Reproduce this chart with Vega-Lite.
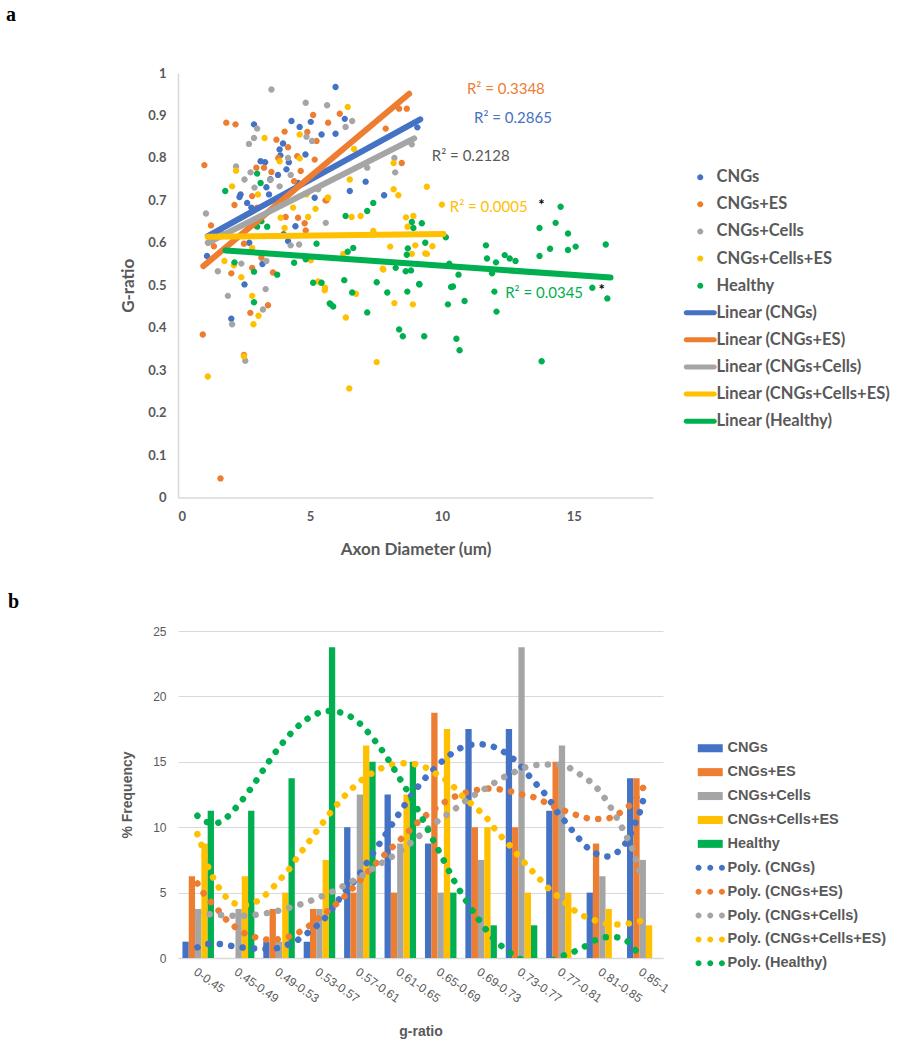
{
"$schema": "https://vega.github.io/schema/vega-lite/v6.json",
"background": "white",
"padding": {"left": 6, "top": 5, "right": 5, "bottom": 5},
"config": {"view": {"stroke": null}},
"spacing": 34,
"resolve": {"scale": {"color": "independent", "shape": "independent"}},
"datasets": {
"pts": [
{"series":"CNGs","x":2.88,"y":0.879},{"series":"CNGs","x":4.3,"y":0.887},{"series":"CNGs","x":4.61,"y":0.873},{"series":"CNGs","x":5.03,"y":0.885},{"series":"CNGs","x":5.44,"y":0.855},{"series":"CNGs","x":3.98,"y":0.834},{"series":"CNGs","x":3.85,"y":0.82},{"series":"CNGs","x":3.88,"y":0.806},{"series":"CNGs","x":4.83,"y":0.808},{"series":"CNGs","x":3.13,"y":0.792},{"series":"CNGs","x":4.11,"y":0.773},{"series":"CNGs","x":3.79,"y":0.76},{"series":"CNGs","x":4.55,"y":0.741},{"series":"CNGs","x":2.37,"y":0.714},{"series":"CNGs","x":2.33,"y":0.708},{"series":"CNGs","x":2.62,"y":0.694},{"series":"CNGs","x":3.35,"y":0.731},{"series":"CNGs","x":3.45,"y":0.714},{"series":"CNGs","x":5.18,"y":0.706},{"series":"CNGs","x":4.45,"y":0.639},{"series":"CNGs","x":2.78,"y":0.683},{"series":"CNGs","x":1.1,"y":0.569},{"series":"CNGs","x":2.52,"y":0.502},{"series":"CNGs","x":4.17,"y":0.604},{"series":"CNGs","x":5.97,"y":0.967},{"series":"CNGs","x":6.32,"y":0.892},{"series":"CNGs","x":5.97,"y":0.857},{"series":"CNGs","x":9.07,"y":0.872},{"series":"CNGs","x":7.11,"y":0.744},{"series":"CNGs","x":6.51,"y":0.722},{"series":"CNGs","x":7.81,"y":0.712},{"series":"CNGs","x":2.02,"y":0.421},{"series":"CNGs","x":3.3,"y":0.79},{"series":"CNGs","x":3.5,"y":0.75},{"series":"CNGs","x":4.2,"y":0.79},{"series":"CNGs","x":4.0,"y":0.62},{"series":"CNGs","x":3.2,"y":0.55},{"series":"CNGs","x":2.7,"y":0.6},
{"series":"CNGs+ES","x":1.83,"y":0.883},{"series":"CNGs+ES","x":2.18,"y":0.879},{"series":"CNGs+ES","x":5.12,"y":0.901},{"series":"CNGs+ES","x":5.69,"y":0.883},{"series":"CNGs+ES","x":4.9,"y":0.861},{"series":"CNGs+ES","x":4.04,"y":0.862},{"series":"CNGs+ES","x":5.25,"y":0.84},{"series":"CNGs+ES","x":3.73,"y":0.843},{"series":"CNGs+ES","x":4.17,"y":0.825},{"series":"CNGs+ES","x":4.52,"y":0.804},{"series":"CNGs+ES","x":3.26,"y":0.777},{"series":"CNGs+ES","x":2.97,"y":0.777},{"series":"CNGs+ES","x":3.54,"y":0.767},{"series":"CNGs+ES","x":1.0,"y":0.783},{"series":"CNGs+ES","x":4.65,"y":0.769},{"series":"CNGs+ES","x":5.18,"y":0.796},{"series":"CNGs+ES","x":2.81,"y":0.71},{"series":"CNGs+ES","x":2.14,"y":0.689},{"series":"CNGs+ES","x":3.0,"y":0.683},{"series":"CNGs+ES","x":4.08,"y":0.661},{"series":"CNGs+ES","x":4.55,"y":0.659},{"series":"CNGs+ES","x":4.8,"y":0.646},{"series":"CNGs+ES","x":5.63,"y":0.7},{"series":"CNGs+ES","x":1.25,"y":0.641},{"series":"CNGs+ES","x":2.5,"y":0.598},{"series":"CNGs+ES","x":1.36,"y":0.592},{"series":"CNGs+ES","x":2.81,"y":0.541},{"series":"CNGs+ES","x":3.6,"y":0.53},{"series":"CNGs+ES","x":2.02,"y":0.528},{"series":"CNGs+ES","x":3.16,"y":0.565},{"series":"CNGs+ES","x":4.84,"y":0.629},{"series":"CNGs+ES","x":6.13,"y":0.904},{"series":"CNGs+ES","x":7.87,"y":0.869},{"series":"CNGs+ES","x":8.38,"y":0.916},{"series":"CNGs+ES","x":8.67,"y":0.916},{"series":"CNGs+ES","x":8.48,"y":0.788},{"series":"CNGs+ES","x":5.59,"y":0.7},{"series":"CNGs+ES","x":3.41,"y":0.453},{"series":"CNGs+ES","x":2.74,"y":0.435},{"series":"CNGs+ES","x":0.94,"y":0.384},{"series":"CNGs+ES","x":2.5,"y":0.336},{"series":"CNGs+ES","x":1.61,"y":0.045},{"series":"CNGs+ES","x":4.4,"y":0.745},{"series":"CNGs+ES","x":3.8,"y":0.8},{"series":"CNGs+ES","x":4.3,"y":0.72},
{"series":"CNGs+Cells","x":3.54,"y":0.961},{"series":"CNGs+Cells","x":4.84,"y":0.93},{"series":"CNGs+Cells","x":5.65,"y":0.924},{"series":"CNGs+Cells","x":3.0,"y":0.869},{"series":"CNGs+Cells","x":2.88,"y":0.847},{"series":"CNGs+Cells","x":2.69,"y":0.833},{"series":"CNGs+Cells","x":4.87,"y":0.85},{"series":"CNGs+Cells","x":5.08,"y":0.84},{"series":"CNGs+Cells","x":4.17,"y":0.8},{"series":"CNGs+Cells","x":2.2,"y":0.78},{"series":"CNGs+Cells","x":2.75,"y":0.766},{"series":"CNGs+Cells","x":2.52,"y":0.749},{"series":"CNGs+Cells","x":3.5,"y":0.748},{"series":"CNGs+Cells","x":3.85,"y":0.733},{"series":"CNGs+Cells","x":4.27,"y":0.76},{"series":"CNGs+Cells","x":1.06,"y":0.669},{"series":"CNGs+Cells","x":1.15,"y":0.6},{"series":"CNGs+Cells","x":2.9,"y":0.73},{"series":"CNGs+Cells","x":5.6,"y":0.647},{"series":"CNGs+Cells","x":4.59,"y":0.596},{"series":"CNGs+Cells","x":4.27,"y":0.594},{"series":"CNGs+Cells","x":2.4,"y":0.551},{"series":"CNGs+Cells","x":1.51,"y":0.533},{"series":"CNGs+Cells","x":3.35,"y":0.557},{"series":"CNGs+Cells","x":5.31,"y":0.726},{"series":"CNGs+Cells","x":6.6,"y":0.887},{"series":"CNGs+Cells","x":6.35,"y":0.873},{"series":"CNGs+Cells","x":8.2,"y":0.8},{"series":"CNGs+Cells","x":8.23,"y":0.766},{"series":"CNGs+Cells","x":8.86,"y":0.832},{"series":"CNGs+Cells","x":7.17,"y":0.777},{"series":"CNGs+Cells","x":1.89,"y":0.475},{"series":"CNGs+Cells","x":3.32,"y":0.491},{"series":"CNGs+Cells","x":3.22,"y":0.443},{"series":"CNGs+Cells","x":2.05,"y":0.408},{"series":"CNGs+Cells","x":2.55,"y":0.322},{"series":"CNGs+Cells","x":1.7,"y":0.62},{"series":"CNGs+Cells","x":3.1,"y":0.66},
{"series":"CNGs+Cells+ES","x":3.28,"y":0.847},{"series":"CNGs+Cells+ES","x":4.61,"y":0.855},{"series":"CNGs+Cells+ES","x":3.85,"y":0.792},{"series":"CNGs+Cells+ES","x":4.61,"y":0.799},{"series":"CNGs+Cells+ES","x":2.2,"y":0.77},{"series":"CNGs+Cells+ES","x":2.05,"y":0.733},{"series":"CNGs+Cells+ES","x":3.03,"y":0.714},{"series":"CNGs+Cells+ES","x":4.87,"y":0.714},{"series":"CNGs+Cells+ES","x":5.69,"y":0.706},{"series":"CNGs+Cells+ES","x":4.36,"y":0.683},{"series":"CNGs+Cells+ES","x":5.21,"y":0.68},{"series":"CNGs+Cells+ES","x":4.93,"y":0.661},{"series":"CNGs+Cells+ES","x":3.89,"y":0.659},{"series":"CNGs+Cells+ES","x":4.04,"y":0.635},{"series":"CNGs+Cells+ES","x":1.76,"y":0.557},{"series":"CNGs+Cells+ES","x":2.12,"y":0.547},{"series":"CNGs+Cells+ES","x":2.4,"y":0.519},{"series":"CNGs+Cells+ES","x":2.81,"y":0.588},{"series":"CNGs+Cells+ES","x":5.4,"y":0.506},{"series":"CNGs+Cells+ES","x":5.57,"y":0.494},{"series":"CNGs+Cells+ES","x":5.03,"y":0.559},{"series":"CNGs+Cells+ES","x":6.43,"y":0.92},{"series":"CNGs+Cells+ES","x":6.67,"y":0.821},{"series":"CNGs+Cells+ES","x":6.51,"y":0.749},{"series":"CNGs+Cells+ES","x":5.67,"y":0.706},{"series":"CNGs+Cells+ES","x":8.17,"y":0.788},{"series":"CNGs+Cells+ES","x":8.17,"y":0.726},{"series":"CNGs+Cells+ES","x":8.35,"y":0.712},{"series":"CNGs+Cells+ES","x":9.43,"y":0.732},{"series":"CNGs+Cells+ES","x":10.0,"y":0.69},{"series":"CNGs+Cells+ES","x":6.58,"y":0.661},{"series":"CNGs+Cells+ES","x":6.92,"y":0.663},{"series":"CNGs+Cells+ES","x":8.64,"y":0.66},{"series":"CNGs+Cells+ES","x":8.92,"y":0.663},{"series":"CNGs+Cells+ES","x":8.7,"y":0.638},{"series":"CNGs+Cells+ES","x":8.04,"y":0.591},{"series":"CNGs+Cells+ES","x":8.99,"y":0.594},{"series":"CNGs+Cells+ES","x":9.43,"y":0.574},{"series":"CNGs+Cells+ES","x":9.64,"y":0.592},{"series":"CNGs+Cells+ES","x":6.26,"y":0.574},{"series":"CNGs+Cells+ES","x":7.4,"y":0.628},{"series":"CNGs+Cells+ES","x":7.78,"y":0.537},{"series":"CNGs+Cells+ES","x":8.86,"y":0.574},{"series":"CNGs+Cells+ES","x":2.81,"y":0.475},{"series":"CNGs+Cells+ES","x":3.05,"y":0.428},{"series":"CNGs+Cells+ES","x":2.86,"y":0.408},{"series":"CNGs+Cells+ES","x":2.5,"y":0.333},{"series":"CNGs+Cells+ES","x":1.13,"y":0.285},{"series":"CNGs+Cells+ES","x":5.56,"y":0.488},{"series":"CNGs+Cells+ES","x":5.31,"y":0.509},{"series":"CNGs+Cells+ES","x":6.36,"y":0.424},{"series":"CNGs+Cells+ES","x":6.74,"y":0.48},{"series":"CNGs+Cells+ES","x":7.53,"y":0.319},{"series":"CNGs+Cells+ES","x":6.49,"y":0.257},{"series":"CNGs+Cells+ES","x":7.76,"y":0.539},{"series":"CNGs+Cells+ES","x":8.2,"y":0.458},{"series":"CNGs+Cells+ES","x":8.9,"y":0.455},{"series":"CNGs+Cells+ES","x":9.37,"y":0.575},
{"series":"Healthy","x":3.0,"y":0.763},{"series":"Healthy","x":3.13,"y":0.741},{"series":"Healthy","x":1.79,"y":0.722},{"series":"Healthy","x":3.16,"y":0.651},{"series":"Healthy","x":3.38,"y":0.638},{"series":"Healthy","x":3.0,"y":0.638},{"series":"Healthy","x":2.14,"y":0.554},{"series":"Healthy","x":2.88,"y":0.532},{"series":"Healthy","x":3.76,"y":0.525},{"series":"Healthy","x":4.4,"y":0.553},{"series":"Healthy","x":5.25,"y":0.598},{"series":"Healthy","x":4.84,"y":0.561},{"series":"Healthy","x":5.12,"y":0.506},{"series":"Healthy","x":5.44,"y":0.506},{"series":"Healthy","x":7.4,"y":0.694},{"series":"Healthy","x":7.17,"y":0.675},{"series":"Healthy","x":6.35,"y":0.663},{"series":"Healthy","x":8.86,"y":0.649},{"series":"Healthy","x":9.24,"y":0.646},{"series":"Healthy","x":8.92,"y":0.635},{"series":"Healthy","x":9.37,"y":0.6},{"series":"Healthy","x":10.15,"y":0.613},{"series":"Healthy","x":8.71,"y":0.587},{"series":"Healthy","x":6.64,"y":0.588},{"series":"Healthy","x":6.43,"y":0.579},{"series":"Healthy","x":8.25,"y":0.541},{"series":"Healthy","x":8.63,"y":0.533},{"series":"Healthy","x":8.83,"y":0.535},{"series":"Healthy","x":10.28,"y":0.551},{"series":"Healthy","x":10.63,"y":0.525},{"series":"Healthy","x":6.3,"y":0.512},{"series":"Healthy","x":7.53,"y":0.507},{"series":"Healthy","x":9.14,"y":0.503},{"series":"Healthy","x":10.35,"y":0.496},{"series":"Healthy","x":2.88,"y":0.46},{"series":"Healthy","x":5.79,"y":0.455},{"series":"Healthy","x":5.75,"y":0.457},{"series":"Healthy","x":5.88,"y":0.45},{"series":"Healthy","x":6.6,"y":0.483},{"series":"Healthy","x":7.17,"y":0.436},{"series":"Healthy","x":7.93,"y":0.483},{"series":"Healthy","x":8.38,"y":0.396},{"series":"Healthy","x":8.52,"y":0.38},{"series":"Healthy","x":8.69,"y":0.485},{"series":"Healthy","x":9.15,"y":0.502},{"series":"Healthy","x":9.33,"y":0.38},{"series":"Healthy","x":10.23,"y":0.455},{"series":"Healthy","x":10.42,"y":0.497},{"series":"Healthy","x":10.55,"y":0.374},{"series":"Healthy","x":10.67,"y":0.347},{"series":"Healthy","x":10.86,"y":0.463},{"series":"Healthy","x":8.67,"y":0.572},{"series":"Healthy","x":14.5,"y":0.685},{"series":"Healthy","x":14.31,"y":0.647},{"series":"Healthy","x":13.7,"y":0.635},{"series":"Healthy","x":14.78,"y":0.622},{"series":"Healthy","x":14.1,"y":0.586},{"series":"Healthy","x":14.78,"y":0.583},{"series":"Healthy","x":15.07,"y":0.591},{"series":"Healthy","x":16.21,"y":0.596},{"series":"Healthy","x":13.7,"y":0.569},{"series":"Healthy","x":11.67,"y":0.594},{"series":"Healthy","x":11.71,"y":0.563},{"series":"Healthy","x":12.05,"y":0.554},{"series":"Healthy","x":12.38,"y":0.571},{"series":"Healthy","x":12.57,"y":0.563},{"series":"Healthy","x":12.79,"y":0.557},{"series":"Healthy","x":11.9,"y":0.528},{"series":"Healthy","x":11.99,"y":0.485},{"series":"Healthy","x":12.07,"y":0.438},{"series":"Healthy","x":15.7,"y":0.494},{"series":"Healthy","x":16.27,"y":0.469},{"series":"Healthy","x":13.78,"y":0.321}
],
"lin": [
{"series":"Linear (CNGs)","x":1.13,"y":0.616},{"series":"Linear (CNGs)","x":9.18,"y":0.891},
{"series":"Linear (CNGs+ES)","x":0.96,"y":0.545},{"series":"Linear (CNGs+ES)","x":8.76,"y":0.951},
{"series":"Linear (CNGs+Cells)","x":1.13,"y":0.6},{"series":"Linear (CNGs+Cells)","x":8.95,"y":0.846},
{"series":"Linear (CNGs+Cells+ES)","x":1.13,"y":0.614},{"series":"Linear (CNGs+Cells+ES)","x":10.06,"y":0.621},
{"series":"Linear (Healthy)","x":1.8,"y":0.582},{"series":"Linear (Healthy)","x":16.39,"y":0.518}
],
"bars": [
{"bin":"0-0.45","series":"CNGs","value":1.25},{"bin":"0.45-0.49","series":"CNGs","value":0},{"bin":"0.49-0.53","series":"CNGs","value":1.25},{"bin":"0.53-0.57","series":"CNGs","value":1.25},{"bin":"0.57-0.61","series":"CNGs","value":10},{"bin":"0.61-0.65","series":"CNGs","value":12.5},{"bin":"0.65-0.69","series":"CNGs","value":8.75},{"bin":"0.69-0.73","series":"CNGs","value":17.5},{"bin":"0.73-0.77","series":"CNGs","value":17.5},{"bin":"0.77-0.81","series":"CNGs","value":11.25},{"bin":"0.81-0.85","series":"CNGs","value":5},{"bin":"0.85-1","series":"CNGs","value":13.75},
{"bin":"0-0.45","series":"CNGs+ES","value":6.25},{"bin":"0.45-0.49","series":"CNGs+ES","value":0},{"bin":"0.49-0.53","series":"CNGs+ES","value":3.75},{"bin":"0.53-0.57","series":"CNGs+ES","value":3.75},{"bin":"0.57-0.61","series":"CNGs+ES","value":5},{"bin":"0.61-0.65","series":"CNGs+ES","value":5},{"bin":"0.65-0.69","series":"CNGs+ES","value":18.75},{"bin":"0.69-0.73","series":"CNGs+ES","value":10},{"bin":"0.73-0.77","series":"CNGs+ES","value":10},{"bin":"0.77-0.81","series":"CNGs+ES","value":15},{"bin":"0.81-0.85","series":"CNGs+ES","value":8.75},{"bin":"0.85-1","series":"CNGs+ES","value":13.75},
{"bin":"0-0.45","series":"CNGs+Cells","value":3.75},{"bin":"0.45-0.49","series":"CNGs+Cells","value":3.75},{"bin":"0.49-0.53","series":"CNGs+Cells","value":1.25},{"bin":"0.53-0.57","series":"CNGs+Cells","value":3.75},{"bin":"0.57-0.61","series":"CNGs+Cells","value":12.5},{"bin":"0.61-0.65","series":"CNGs+Cells","value":8.75},{"bin":"0.65-0.69","series":"CNGs+Cells","value":5},{"bin":"0.69-0.73","series":"CNGs+Cells","value":7.5},{"bin":"0.73-0.77","series":"CNGs+Cells","value":23.75},{"bin":"0.77-0.81","series":"CNGs+Cells","value":16.25},{"bin":"0.81-0.85","series":"CNGs+Cells","value":6.25},{"bin":"0.85-1","series":"CNGs+Cells","value":7.5},
{"bin":"0-0.45","series":"CNGs+Cells+ES","value":8.75},{"bin":"0.45-0.49","series":"CNGs+Cells+ES","value":6.25},{"bin":"0.49-0.53","series":"CNGs+Cells+ES","value":5},{"bin":"0.53-0.57","series":"CNGs+Cells+ES","value":7.5},{"bin":"0.57-0.61","series":"CNGs+Cells+ES","value":16.25},{"bin":"0.61-0.65","series":"CNGs+Cells+ES","value":12.5},{"bin":"0.65-0.69","series":"CNGs+Cells+ES","value":17.5},{"bin":"0.69-0.73","series":"CNGs+Cells+ES","value":10},{"bin":"0.73-0.77","series":"CNGs+Cells+ES","value":5},{"bin":"0.77-0.81","series":"CNGs+Cells+ES","value":5},{"bin":"0.81-0.85","series":"CNGs+Cells+ES","value":3.75},{"bin":"0.85-1","series":"CNGs+Cells+ES","value":2.5},
{"bin":"0-0.45","series":"Healthy","value":11.25},{"bin":"0.45-0.49","series":"Healthy","value":11.25},{"bin":"0.49-0.53","series":"Healthy","value":13.75},{"bin":"0.53-0.57","series":"Healthy","value":23.75},{"bin":"0.57-0.61","series":"Healthy","value":15},{"bin":"0.61-0.65","series":"Healthy","value":15},{"bin":"0.65-0.69","series":"Healthy","value":5},{"bin":"0.69-0.73","series":"Healthy","value":2.5},{"bin":"0.73-0.77","series":"Healthy","value":2.5},{"bin":"0.77-0.81","series":"Healthy","value":0},{"bin":"0.81-0.85","series":"Healthy","value":0},{"bin":"0.85-1","series":"Healthy","value":0}
],
"poly": [
{"series":"Poly. (CNGs)","idx":0.98,"value":0.81},{"series":"Poly. (CNGs)","idx":1.25,"value":1.07},{"series":"Poly. (CNGs)","idx":1.51,"value":1.07},{"series":"Poly. (CNGs)","idx":1.79,"value":0.94},{"series":"Poly. (CNGs)","idx":2.06,"value":0.81},{"series":"Poly. (CNGs)","idx":2.34,"value":0.74},{"series":"Poly. (CNGs)","idx":2.65,"value":0.69},{"series":"Poly. (CNGs)","idx":2.92,"value":0.74},{"series":"Poly. (CNGs)","idx":3.19,"value":0.99},{"series":"Poly. (CNGs)","idx":3.43,"value":1.32},{"series":"Poly. (CNGs)","idx":3.64,"value":1.76},{"series":"Poly. (CNGs)","idx":3.85,"value":2.27},{"series":"Poly. (CNGs)","idx":4.06,"value":2.8},{"series":"Poly. (CNGs)","idx":4.3,"value":3.7},{"series":"Poly. (CNGs)","idx":4.55,"value":4.76},{"series":"Poly. (CNGs)","idx":4.93,"value":6.16},{"series":"Poly. (CNGs)","idx":5.24,"value":7.61},{"series":"Poly. (CNGs)","idx":5.56,"value":9.09},{"series":"Poly. (CNGs)","idx":5.87,"value":10.57},{"series":"Poly. (CNGs)","idx":6.18,"value":12.02},{"series":"Poly. (CNGs)","idx":6.51,"value":13.37},{"series":"Poly. (CNGs)","idx":6.87,"value":14.56},{"series":"Poly. (CNGs)","idx":7.25,"value":15.58},{"series":"Poly. (CNGs)","idx":7.69,"value":16.27},{"series":"Poly. (CNGs)","idx":7.98,"value":16.34},{"series":"Poly. (CNGs)","idx":8.23,"value":16.22},{"series":"Poly. (CNGs)","idx":8.49,"value":15.89},{"series":"Poly. (CNGs)","idx":8.7,"value":15.45},{"series":"Poly. (CNGs)","idx":8.9,"value":14.94},{"series":"Poly. (CNGs)","idx":9.08,"value":14.31},{"series":"Poly. (CNGs)","idx":9.27,"value":13.62},{"series":"Poly. (CNGs)","idx":9.44,"value":13.03},{"series":"Poly. (CNGs)","idx":9.62,"value":12.4},{"series":"Poly. (CNGs)","idx":9.94,"value":10.92},{"series":"Poly. (CNGs)","idx":10.12,"value":10.29},{"series":"Poly. (CNGs)","idx":10.29,"value":9.6},{"series":"Poly. (CNGs)","idx":10.47,"value":8.96},{"series":"Poly. (CNGs)","idx":10.65,"value":8.38},{"series":"Poly. (CNGs)","idx":10.87,"value":7.94},{"series":"Poly. (CNGs)","idx":11.15,"value":7.76},{"series":"Poly. (CNGs)","idx":11.38,"value":8.12},{"series":"Poly. (CNGs)","idx":11.57,"value":8.76},{"series":"Poly. (CNGs)","idx":11.82,"value":10.36},{"series":"Poly. (CNGs)","idx":11.93,"value":11.18},{"series":"Poly. (CNGs)","idx":12.01,"value":12.07},
{"series":"Poly. (CNGs+ES)","idx":0.98,"value":5.7},{"series":"Poly. (CNGs+ES)","idx":1.13,"value":4.96},{"series":"Poly. (CNGs+ES)","idx":1.31,"value":4.3},{"series":"Poly. (CNGs+ES)","idx":1.49,"value":3.67},{"series":"Poly. (CNGs+ES)","idx":1.68,"value":2.98},{"series":"Poly. (CNGs+ES)","idx":1.87,"value":2.47},{"series":"Poly. (CNGs+ES)","idx":2.1,"value":1.96},{"series":"Poly. (CNGs+ES)","idx":2.32,"value":1.71},{"series":"Poly. (CNGs+ES)","idx":2.55,"value":1.45},{"series":"Poly. (CNGs+ES)","idx":2.85,"value":1.4},{"series":"Poly. (CNGs+ES)","idx":3.11,"value":1.53},{"series":"Poly. (CNGs+ES)","idx":3.36,"value":1.76},{"series":"Poly. (CNGs+ES)","idx":3.56,"value":2.09},{"series":"Poly. (CNGs+ES)","idx":3.77,"value":2.52},{"series":"Poly. (CNGs+ES)","idx":3.95,"value":2.98},{"series":"Poly. (CNGs+ES)","idx":4.25,"value":3.7},{"series":"Poly. (CNGs+ES)","idx":4.57,"value":4.56},{"series":"Poly. (CNGs+ES)","idx":4.92,"value":5.65},{"series":"Poly. (CNGs+ES)","idx":5.3,"value":6.92},{"series":"Poly. (CNGs+ES)","idx":5.67,"value":8.07},{"series":"Poly. (CNGs+ES)","idx":6.06,"value":9.22},{"series":"Poly. (CNGs+ES)","idx":6.43,"value":10.36},{"series":"Poly. (CNGs+ES)","idx":6.84,"value":11.38},{"series":"Poly. (CNGs+ES)","idx":7.27,"value":12.22},{"series":"Poly. (CNGs+ES)","idx":7.73,"value":12.73},{"series":"Poly. (CNGs+ES)","idx":8.24,"value":12.96},{"series":"Poly. (CNGs+ES)","idx":8.53,"value":12.86},{"series":"Poly. (CNGs+ES)","idx":8.78,"value":12.7},{"series":"Poly. (CNGs+ES)","idx":9.05,"value":12.47},{"series":"Poly. (CNGs+ES)","idx":9.32,"value":12.27},{"series":"Poly. (CNGs+ES)","idx":9.56,"value":11.94},{"series":"Poly. (CNGs+ES)","idx":9.75,"value":11.63},{"series":"Poly. (CNGs+ES)","idx":10.0,"value":11.33},{"series":"Poly. (CNGs+ES)","idx":10.25,"value":11.05},{"series":"Poly. (CNGs+ES)","idx":10.5,"value":10.79},{"series":"Poly. (CNGs+ES)","idx":10.76,"value":10.62},{"series":"Poly. (CNGs+ES)","idx":11.06,"value":10.62},{"series":"Poly. (CNGs+ES)","idx":11.3,"value":10.87},{"series":"Poly. (CNGs+ES)","idx":11.53,"value":11.3},{"series":"Poly. (CNGs+ES)","idx":11.73,"value":11.84},{"series":"Poly. (CNGs+ES)","idx":11.9,"value":12.5},{"series":"Poly. (CNGs+ES)","idx":12.05,"value":13.24},
{"series":"Poly. (CNGs+Cells)","idx":1.0,"value":3.45},{"series":"Poly. (CNGs+Cells)","idx":1.25,"value":3.36},{"series":"Poly. (CNGs+Cells)","idx":1.56,"value":3.28},{"series":"Poly. (CNGs+Cells)","idx":1.85,"value":3.23},{"series":"Poly. (CNGs+Cells)","idx":2.13,"value":3.23},{"series":"Poly. (CNGs+Cells)","idx":2.42,"value":3.31},{"series":"Poly. (CNGs+Cells)","idx":2.71,"value":3.44},{"series":"Poly. (CNGs+Cells)","idx":2.99,"value":3.62},{"series":"Poly. (CNGs+Cells)","idx":3.25,"value":3.84},{"series":"Poly. (CNGs+Cells)","idx":3.5,"value":4.07},{"series":"Poly. (CNGs+Cells)","idx":3.74,"value":4.33},{"series":"Poly. (CNGs+Cells)","idx":3.99,"value":4.63},{"series":"Poly. (CNGs+Cells)","idx":4.24,"value":4.96},{"series":"Poly. (CNGs+Cells)","idx":4.47,"value":5.32},{"series":"Poly. (CNGs+Cells)","idx":4.73,"value":5.73},{"series":"Poly. (CNGs+Cells)","idx":5.05,"value":6.3},{"series":"Poly. (CNGs+Cells)","idx":5.4,"value":7.0},{"series":"Poly. (CNGs+Cells)","idx":5.83,"value":7.82},{"series":"Poly. (CNGs+Cells)","idx":6.25,"value":8.78},{"series":"Poly. (CNGs+Cells)","idx":6.45,"value":9.29},{"series":"Poly. (CNGs+Cells)","idx":6.86,"value":10.31},{"series":"Poly. (CNGs+Cells)","idx":7.29,"value":11.25},{"series":"Poly. (CNGs+Cells)","idx":7.71,"value":12.22},{"series":"Poly. (CNGs+Cells)","idx":8.14,"value":13.03},{"series":"Poly. (CNGs+Cells)","idx":8.59,"value":13.87},{"series":"Poly. (CNGs+Cells)","idx":8.8,"value":14.18},{"series":"Poly. (CNGs+Cells)","idx":9.06,"value":14.54},{"series":"Poly. (CNGs+Cells)","idx":9.32,"value":14.74},{"series":"Poly. (CNGs+Cells)","idx":9.59,"value":14.79},{"series":"Poly. (CNGs+Cells)","idx":9.88,"value":14.79},{"series":"Poly. (CNGs+Cells)","idx":10.14,"value":14.61},{"series":"Poly. (CNGs+Cells)","idx":10.37,"value":14.18},{"series":"Poly. (CNGs+Cells)","idx":10.6,"value":13.72},{"series":"Poly. (CNGs+Cells)","idx":10.8,"value":13.21},{"series":"Poly. (CNGs+Cells)","idx":10.97,"value":12.6},{"series":"Poly. (CNGs+Cells)","idx":11.13,"value":11.89},{"series":"Poly. (CNGs+Cells)","idx":11.28,"value":11.13},{"series":"Poly. (CNGs+Cells)","idx":11.42,"value":10.36},{"series":"Poly. (CNGs+Cells)","idx":11.55,"value":9.55},{"series":"Poly. (CNGs+Cells)","idx":11.68,"value":8.76},{"series":"Poly. (CNGs+Cells)","idx":11.79,"value":7.94},{"series":"Poly. (CNGs+Cells)","idx":11.87,"value":7.1},{"series":"Poly. (CNGs+Cells)","idx":11.97,"value":6.29},
{"series":"Poly. (CNGs+Cells+ES)","idx":0.98,"value":9.47},{"series":"Poly. (CNGs+Cells+ES)","idx":1.08,"value":8.63},{"series":"Poly. (CNGs+Cells+ES)","idx":1.25,"value":6.92},{"series":"Poly. (CNGs+Cells+ES)","idx":1.38,"value":6.08},{"series":"Poly. (CNGs+Cells+ES)","idx":1.52,"value":5.35},{"series":"Poly. (CNGs+Cells+ES)","idx":1.68,"value":4.68},{"series":"Poly. (CNGs+Cells+ES)","idx":1.89,"value":4.18},{"series":"Poly. (CNGs+Cells+ES)","idx":2.15,"value":4.05},{"series":"Poly. (CNGs+Cells+ES)","idx":2.4,"value":4.25},{"series":"Poly. (CNGs+Cells+ES)","idx":2.61,"value":4.68},{"series":"Poly. (CNGs+Cells+ES)","idx":2.8,"value":5.22},{"series":"Poly. (CNGs+Cells+ES)","idx":2.98,"value":5.86},{"series":"Poly. (CNGs+Cells+ES)","idx":3.17,"value":6.49},{"series":"Poly. (CNGs+Cells+ES)","idx":3.34,"value":7.18},{"series":"Poly. (CNGs+Cells+ES)","idx":3.5,"value":7.92},{"series":"Poly. (CNGs+Cells+ES)","idx":3.67,"value":8.58},{"series":"Poly. (CNGs+Cells+ES)","idx":3.83,"value":9.29},{"series":"Poly. (CNGs+Cells+ES)","idx":4.0,"value":9.98},{"series":"Poly. (CNGs+Cells+ES)","idx":4.16,"value":10.67},{"series":"Poly. (CNGs+Cells+ES)","idx":4.34,"value":11.38},{"series":"Poly. (CNGs+Cells+ES)","idx":4.52,"value":12.02},{"series":"Poly. (CNGs+Cells+ES)","idx":4.7,"value":12.65},{"series":"Poly. (CNGs+Cells+ES)","idx":4.88,"value":13.16},{"series":"Poly. (CNGs+Cells+ES)","idx":5.07,"value":13.67},{"series":"Poly. (CNGs+Cells+ES)","idx":5.3,"value":14.13},{"series":"Poly. (CNGs+Cells+ES)","idx":5.52,"value":14.49},{"series":"Poly. (CNGs+Cells+ES)","idx":5.79,"value":14.79},{"series":"Poly. (CNGs+Cells+ES)","idx":6.06,"value":14.89},{"series":"Poly. (CNGs+Cells+ES)","idx":6.35,"value":14.82},{"series":"Poly. (CNGs+Cells+ES)","idx":6.6,"value":14.61},{"series":"Poly. (CNGs+Cells+ES)","idx":6.8,"value":14.23},{"series":"Poly. (CNGs+Cells+ES)","idx":7.01,"value":13.87},{"series":"Poly. (CNGs+Cells+ES)","idx":7.22,"value":13.37},{"series":"Poly. (CNGs+Cells+ES)","idx":7.42,"value":12.78},{"series":"Poly. (CNGs+Cells+ES)","idx":7.61,"value":12.14},{"series":"Poly. (CNGs+Cells+ES)","idx":7.8,"value":11.7},{"series":"Poly. (CNGs+Cells+ES)","idx":7.98,"value":11.18},{"series":"Poly. (CNGs+Cells+ES)","idx":8.16,"value":10.62},{"series":"Poly. (CNGs+Cells+ES)","idx":8.33,"value":9.9},{"series":"Poly. (CNGs+Cells+ES)","idx":8.51,"value":9.25},{"series":"Poly. (CNGs+Cells+ES)","idx":8.7,"value":8.63},{"series":"Poly. (CNGs+Cells+ES)","idx":8.86,"value":8.03},{"series":"Poly. (CNGs+Cells+ES)","idx":9.04,"value":7.4},{"series":"Poly. (CNGs+Cells+ES)","idx":9.21,"value":6.82},{"series":"Poly. (CNGs+Cells+ES)","idx":9.4,"value":6.21},{"series":"Poly. (CNGs+Cells+ES)","idx":9.6,"value":5.52},{"series":"Poly. (CNGs+Cells+ES)","idx":9.81,"value":4.94},{"series":"Poly. (CNGs+Cells+ES)","idx":10.02,"value":4.38},{"series":"Poly. (CNGs+Cells+ES)","idx":10.2,"value":3.9},{"series":"Poly. (CNGs+Cells+ES)","idx":10.41,"value":3.41},{"series":"Poly. (CNGs+Cells+ES)","idx":10.68,"value":3.03},{"series":"Poly. (CNGs+Cells+ES)","idx":10.93,"value":2.77},{"series":"Poly. (CNGs+Cells+ES)","idx":11.2,"value":2.57},{"series":"Poly. (CNGs+Cells+ES)","idx":11.46,"value":2.57},{"series":"Poly. (CNGs+Cells+ES)","idx":11.71,"value":2.67},{"series":"Poly. (CNGs+Cells+ES)","idx":11.97,"value":2.85},
{"series":"Poly. (Healthy)","idx":0.98,"value":10.87},{"series":"Poly. (Healthy)","idx":1.19,"value":10.41},{"series":"Poly. (Healthy)","idx":1.44,"value":10.31},{"series":"Poly. (Healthy)","idx":1.68,"value":10.69},{"series":"Poly. (Healthy)","idx":2.04,"value":11.89},{"series":"Poly. (Healthy)","idx":2.37,"value":13.26},{"series":"Poly. (Healthy)","idx":2.68,"value":14.71},{"series":"Poly. (Healthy)","idx":3.01,"value":16.14},{"series":"Poly. (Healthy)","idx":3.36,"value":17.39},{"series":"Poly. (Healthy)","idx":3.75,"value":18.38},{"series":"Poly. (Healthy)","idx":4.24,"value":18.89},{"series":"Poly. (Healthy)","idx":4.54,"value":18.76},{"series":"Poly. (Healthy)","idx":4.99,"value":17.95},{"series":"Poly. (Healthy)","idx":5.34,"value":16.73},{"series":"Poly. (Healthy)","idx":5.67,"value":15.33},{"series":"Poly. (Healthy)","idx":5.97,"value":13.8},{"series":"Poly. (Healthy)","idx":6.26,"value":12.32},{"series":"Poly. (Healthy)","idx":6.54,"value":10.69},{"series":"Poly. (Healthy)","idx":6.8,"value":9.09},{"series":"Poly. (Healthy)","idx":7.05,"value":7.61},{"series":"Poly. (Healthy)","idx":7.31,"value":6.03},{"series":"Poly. (Healthy)","idx":7.6,"value":4.51},{"series":"Poly. (Healthy)","idx":7.92,"value":3.03},{"series":"Poly. (Healthy)","idx":8.24,"value":1.71},{"series":"Poly. (Healthy)","idx":8.45,"value":1.07},{"series":"Poly. (Healthy)","idx":8.66,"value":0.51},{"series":"Poly. (Healthy)","idx":8.86,"value":0.13},{"series":"Poly. (Healthy)","idx":9.2,"value":-0.35},{"series":"Poly. (Healthy)","idx":9.55,"value":-0.4},{"series":"Poly. (Healthy)","idx":9.89,"value":0},{"series":"Poly. (Healthy)","idx":10.14,"value":0.31},{"series":"Poly. (Healthy)","idx":10.36,"value":0.56},{"series":"Poly. (Healthy)","idx":10.6,"value":0.94},{"series":"Poly. (Healthy)","idx":10.83,"value":1.37},{"series":"Poly. (Healthy)","idx":11.07,"value":1.58},{"series":"Poly. (Healthy)","idx":11.34,"value":1.58},{"series":"Poly. (Healthy)","idx":11.6,"value":1.32},{"series":"Poly. (Healthy)","idx":11.79,"value":0.69},{"series":"Poly. (Healthy)","idx":11.97,"value":0.05}
]
},
"vconcat": [
{
"title": {"text": "a", "anchor": "start", "frame": "group", "dx": -172, "offset": 42, "font": "Liberation Serif", "fontSize": 20, "fontWeight": "bold", "color": "black"},
"width": 475,
"height": 424.5,
"layer": [
{"data": {"name": "pts"},
 "mark": {"type": "point", "filled": true, "size": 220, "opacity": 1},
 "encoding": {
  "x": {"field": "x", "type": "quantitative", "scale": {"domain": [0, 18], "nice": false},
        "axis": {"title": "Axon Diameter (um)", "values": [0, 5, 10, 15], "grid": false, "ticks": false, "domainColor": "#D9D9D9", "domainWidth": 1.5, "labelFont": "Lato", "labelFontSize": 13, "labelFontWeight": "bold", "labelColor": "#595959", "labelPadding": 13, "titleFont": "Lato", "titleFontSize": 17, "titleFontWeight": "bold", "titleColor": "#595959", "titlePadding": 18}},
  "y": {"field": "y", "type": "quantitative", "scale": {"domain": [0, 1], "nice": false},
        "axis": {"title": "G-ratio", "values": [0, 0.1, 0.2, 0.3, 0.4, 0.5, 0.6, 0.7, 0.8, 0.9, 1], "format": "~g", "grid": false, "ticks": false, "domainColor": "#D9D9D9", "domainWidth": 1.5, "labelFont": "Lato", "labelFontSize": 13, "labelFontWeight": "bold", "labelColor": "#595959", "labelPadding": 12, "titleFont": "Lato", "titleFontSize": 17, "titleFontWeight": "bold", "titleColor": "#595959", "titlePadding": 10}},
  "color": {"field": "series", "type": "nominal",
            "scale": {"domain": ["CNGs", "CNGs+ES", "CNGs+Cells", "CNGs+Cells+ES", "Healthy", "Linear (CNGs)", "Linear (CNGs+ES)", "Linear (CNGs+Cells)", "Linear (CNGs+Cells+ES)", "Linear (Healthy)"],
                      "range": ["#4472C4", "#ED7D31", "#A5A5A5", "#FFC000", "#00B050", "#4472C4", "#ED7D31", "#A5A5A5", "#FFC000", "#00B050"]},
            "legend": {"title": null, "orient": "none", "legendX": 514, "legendY": 96, "padding": 0, "symbolSize": 196, "symbolStrokeWidth": 0, "rowPadding": 10.1, "labelOffset": 8, "labelFont": "Lato", "labelFontSize": 16.5, "labelFontWeight": "bold", "labelColor": "#595959", "labelLimit": 300}},
  "shape": {"field": "series", "type": "nominal",
            "scale": {"domain": ["CNGs", "CNGs+ES", "CNGs+Cells", "CNGs+Cells+ES", "Healthy", "Linear (CNGs)", "Linear (CNGs+ES)", "Linear (CNGs+Cells)", "Linear (CNGs+Cells+ES)", "Linear (Healthy)"],
                      "range": ["M-0.43,0A0.43,0.43 0 1,0 0.43,0A0.43,0.43 0 1,0 -0.43,0Z", "M-0.43,0A0.43,0.43 0 1,0 0.43,0A0.43,0.43 0 1,0 -0.43,0Z", "M-0.43,0A0.43,0.43 0 1,0 0.43,0A0.43,0.43 0 1,0 -0.43,0Z", "M-0.43,0A0.43,0.43 0 1,0 0.43,0A0.43,0.43 0 1,0 -0.43,0Z", "M-0.43,0A0.43,0.43 0 1,0 0.43,0A0.43,0.43 0 1,0 -0.43,0Z", "M-2,-0.36H2A0.36,0.36 0 0,1 2,0.36H-2A0.36,0.36 0 0,1 -2,-0.36Z", "M-2,-0.36H2A0.36,0.36 0 0,1 2,0.36H-2A0.36,0.36 0 0,1 -2,-0.36Z", "M-2,-0.36H2A0.36,0.36 0 0,1 2,0.36H-2A0.36,0.36 0 0,1 -2,-0.36Z", "M-2,-0.36H2A0.36,0.36 0 0,1 2,0.36H-2A0.36,0.36 0 0,1 -2,-0.36Z", "M-2,-0.36H2A0.36,0.36 0 0,1 2,0.36H-2A0.36,0.36 0 0,1 -2,-0.36Z"]}}
 }},
{"data": {"name": "lin"},
 "mark": {"type": "line", "strokeWidth": 6, "strokeCap": "round"},
 "encoding": {
  "x": {"field": "x", "type": "quantitative"},
  "y": {"field": "y", "type": "quantitative"},
  "color": {"field": "series", "type": "nominal", "legend": null}}},
{"data": {"values": [{"label": "R² = 0.3348", "x": 10.95, "y": 0.962}]},
 "mark": {"type": "text", "align": "left", "baseline": "middle", "font": "Lato", "fontSize": 15, "color": "#ED7D31"},
 "encoding": {"x": {"field": "x", "type": "quantitative"}, "y": {"field": "y", "type": "quantitative"}, "text": {"field": "label"}}},
{"data": {"values": [{"label": "R² = 0.2865", "x": 11.22, "y": 0.894}]},
 "mark": {"type": "text", "align": "left", "baseline": "middle", "font": "Lato", "fontSize": 15, "color": "#4472C4"},
 "encoding": {"x": {"field": "x", "type": "quantitative"}, "y": {"field": "y", "type": "quantitative"}, "text": {"field": "label"}}},
{"data": {"values": [{"label": "R² = 0.2128", "x": 9.62, "y": 0.804}]},
 "mark": {"type": "text", "align": "left", "baseline": "middle", "font": "Lato", "fontSize": 15, "color": "#595959"},
 "encoding": {"x": {"field": "x", "type": "quantitative"}, "y": {"field": "y", "type": "quantitative"}, "text": {"field": "label"}}},
{"data": {"values": [{"label": "R² = 0.0005", "x": 10.3, "y": 0.684}]},
 "mark": {"type": "text", "align": "left", "baseline": "middle", "font": "Lato", "fontSize": 15, "color": "#FFC000"},
 "encoding": {"x": {"field": "x", "type": "quantitative"}, "y": {"field": "y", "type": "quantitative"}, "text": {"field": "label"}}},
{"data": {"values": [{"label": "R² = 0.0345", "x": 12.4, "y": 0.482}]},
 "mark": {"type": "text", "align": "left", "baseline": "middle", "font": "Lato", "fontSize": 15, "color": "#00B050"},
 "encoding": {"x": {"field": "x", "type": "quantitative"}, "y": {"field": "y", "type": "quantitative"}, "text": {"field": "label"}}},
{"data": {"values": [{"label": "*", "x": 13.65, "y": 0.69}, {"label": "*", "x": 15.93, "y": 0.488}]},
 "mark": {"type": "text", "align": "left", "baseline": "middle", "font": "Lato", "fontSize": 15, "fontWeight": "bold", "color": "black"},
 "encoding": {"x": {"field": "x", "type": "quantitative"}, "y": {"field": "y", "type": "quantitative"}, "text": {"field": "label"}}}
]
},
{
"title": {"text": "b", "anchor": "start", "frame": "group", "dx": -170, "offset": 13, "font": "Liberation Serif", "fontSize": 20, "fontWeight": "bold", "color": "black"},
"width": 485,
"height": 327,
"layer": [
{"data": {"name": "bars"},
 "transform": [{"filter": "false"}],
 "mark": {"type": "point", "filled": true, "opacity": 1},
 "encoding": {
  "color": {"field": "series", "type": "nominal",
            "scale": {"domain": ["CNGs", "CNGs+ES", "CNGs+Cells", "CNGs+Cells+ES", "Healthy", "Poly. (CNGs)", "Poly. (CNGs+ES)", "Poly. (CNGs+Cells)", "Poly. (CNGs+Cells+ES)", "Poly. (Healthy)"],
                      "range": ["#4472C4", "#ED7D31", "#A5A5A5", "#FFC000", "#00B050", "#4472C4", "#ED7D31", "#A5A5A5", "#FFC000", "#00B050"]},
            "legend": {"title": null, "orient": "none", "legendX": 525, "legendY": 110, "padding": 0, "symbolSize": 144, "symbolStrokeWidth": 0, "rowPadding": 8.9, "labelOffset": 10, "labelFont": "Liberation Sans", "labelFontSize": 14.5, "labelFontWeight": "bold", "labelColor": "#595959", "labelLimit": 300}},
  "shape": {"field": "series", "type": "nominal",
            "scale": {"domain": ["CNGs", "CNGs+ES", "CNGs+Cells", "CNGs+Cells+ES", "Healthy", "Poly. (CNGs)", "Poly. (CNGs+ES)", "Poly. (CNGs+Cells)", "Poly. (CNGs+Cells+ES)", "Poly. (Healthy)"],
                      "range": ["M-2.08,-0.67H2.08V0.67H-2.08Z", "M-2.08,-0.67H2.08V0.67H-2.08Z", "M-2.08,-0.67H2.08V0.67H-2.08Z", "M-2.08,-0.67H2.08V0.67H-2.08Z", "M-2.08,-0.67H2.08V0.67H-2.08Z",
                                "M-2.45,0A0.5,0.5 0 1,0 -1.45,0A0.5,0.5 0 1,0 -2.45,0ZM-0.5,0A0.5,0.5 0 1,0 0.5,0A0.5,0.5 0 1,0 -0.5,0ZM1.45,0A0.5,0.5 0 1,0 2.45,0A0.5,0.5 0 1,0 1.45,0Z",
                                "M-2.45,0A0.5,0.5 0 1,0 -1.45,0A0.5,0.5 0 1,0 -2.45,0ZM-0.5,0A0.5,0.5 0 1,0 0.5,0A0.5,0.5 0 1,0 -0.5,0ZM1.45,0A0.5,0.5 0 1,0 2.45,0A0.5,0.5 0 1,0 1.45,0Z",
                                "M-2.45,0A0.5,0.5 0 1,0 -1.45,0A0.5,0.5 0 1,0 -2.45,0ZM-0.5,0A0.5,0.5 0 1,0 0.5,0A0.5,0.5 0 1,0 -0.5,0ZM1.45,0A0.5,0.5 0 1,0 2.45,0A0.5,0.5 0 1,0 1.45,0Z",
                                "M-2.45,0A0.5,0.5 0 1,0 -1.45,0A0.5,0.5 0 1,0 -2.45,0ZM-0.5,0A0.5,0.5 0 1,0 0.5,0A0.5,0.5 0 1,0 -0.5,0ZM1.45,0A0.5,0.5 0 1,0 2.45,0A0.5,0.5 0 1,0 1.45,0Z",
                                "M-2.45,0A0.5,0.5 0 1,0 -1.45,0A0.5,0.5 0 1,0 -2.45,0ZM-0.5,0A0.5,0.5 0 1,0 0.5,0A0.5,0.5 0 1,0 -0.5,0ZM1.45,0A0.5,0.5 0 1,0 2.45,0A0.5,0.5 0 1,0 1.45,0Z"]}}
 }},
{"data": {"name": "bars"},
 "mark": {"type": "bar"},
 "encoding": {
  "x": {"field": "bin", "type": "nominal", "sort": ["0-0.45", "0.45-0.49", "0.49-0.53", "0.53-0.57", "0.57-0.61", "0.61-0.65", "0.65-0.69", "0.69-0.73", "0.73-0.77", "0.77-0.81", "0.81-0.85", "0.85-1"],
        "scale": {"paddingInner": 0.22, "paddingOuter": 0.11},
        "axis": {"title": "g-ratio", "labelAngle": 35, "labelAlign": "left", "labelBaseline": "top", "ticks": false, "domainColor": "#D9D9D9", "domainWidth": 1.5, "labelFont": "Liberation Sans", "labelFontSize": 12, "labelColor": "#595959", "labelPadding": 8, "titleFont": "Liberation Sans", "titleFontSize": 14, "titleFontWeight": "bold", "titleColor": "#595959", "titlePadding": 20}},
  "xOffset": {"field": "series", "type": "nominal", "sort": ["CNGs", "CNGs+ES", "CNGs+Cells", "CNGs+Cells+ES", "Healthy"], "scale": {"paddingInner": 0, "paddingOuter": 0}},
  "y": {"field": "value", "type": "quantitative", "scale": {"domain": [0, 25], "nice": false},
        "axis": {"title": "% Frequency", "values": [0, 5, 10, 15, 20, 25], "grid": true, "gridColor": "#D9D9D9", "gridWidth": 1.2, "domain": false, "ticks": false, "labelFont": "Liberation Sans", "labelFontSize": 12, "labelColor": "#595959", "labelPadding": 12, "titleFont": "Liberation Sans", "titleFontSize": 14, "titleFontWeight": "bold", "titleColor": "#595959", "titlePadding": 18}},
  "color": {"field": "series", "type": "nominal", "legend": null}}},
{"data": {"name": "poly"},
 "mark": {"type": "line", "interpolate": "monotone", "strokeWidth": 6.5, "strokeCap": "round", "strokeDash": [0.1, 11.4], "clip": true},
 "encoding": {
  "x": {"field": "idx", "type": "quantitative", "scale": {"domain": [0.5, 12.5], "nice": false, "zero": false}, "axis": null},
  "y": {"field": "value", "type": "quantitative"},
  "color": {"field": "series", "type": "nominal", "legend": null}}}
],
"resolve": {"scale": {"x": "independent"}}
}
]
}
